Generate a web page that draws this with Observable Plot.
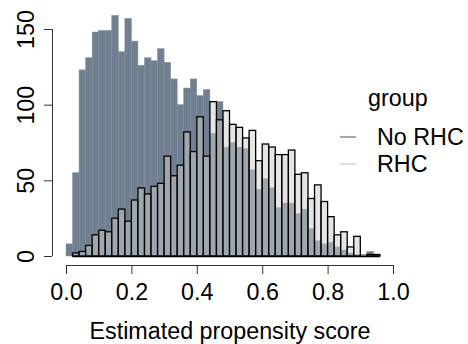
<!DOCTYPE html>
<html>
<head>
<meta charset="utf-8">
<script src="https://cdn.jsdelivr.net/npm/d3@7"></script>
<script src="https://cdn.jsdelivr.net/npm/@observablehq/plot@0.6"></script>
<style>
  html, body { margin: 0; padding: 0; background: #fff; }
  #chart { width: 468px; height: 344px; }
</style>
</head>
<body>
<div id="chart"></div>
<script>
// Histogram bins (width 0.02, starting at 0.00)
const binWidth = 0.02;
const noRHC = [8, 55, 123, 131, 148, 149, 149, 159, 135, 157, 142, 126, 131, 129, 137, 128,
  117, 100, 111, 117, 106, 110, 81, 102, 72, 75, 72, 71, 57, 44, 51, 45,
  32, 35, 35, 28, 31, 18, 10, 8, 9, 6, 4, 2, 1, 1, 3, 1];
const rhc = [0, 2, 3, 7, 14, 17, 16, 25, 31, 23, 37, 45, 41, 46, 48, 66,
  53, 60, 82, 69, 92, 66, 102, 90, 96, 87, 85, 78, 83, 63, 74, 72,
  67, 67, 70, 54, 55, 38, 47, 36, 26, 14, 16, 6, 13, 0, 1, 1];
const xTicks = [0, 0.2, 0.4, 0.6, 0.8, 1.0];
const yTicks = [0, 50, 100, 150];
const groups = ["No RHC", "RHC"];
const xLabel = "Estimated propensity score";
const legendTitle = "group";

const noRHCData = noRHC.map((c, i) => ({x1: i * binWidth, x2: (i + 1) * binWidth, count: c}));
const rhcData = rhc.map((c, i) => ({x1: i * binWidth, x2: (i + 1) * binWidth, count: c})).slice(1);

const font = "'Liberation Sans', Arial, Helvetica, sans-serif";
const fs = 23.3;

const svg = Plot.plot({
  width: 468,
  height: 344,
  marginLeft: 52,
  insetLeft: 14,
  marginRight: 75,
  marginTop: 29,
  marginBottom: 79,
  insetBottom: 9,
  style: {fontFamily: font, fontSize: fs + "px", color: "#000", background: "#fff", overflow: "visible"},
  x: {domain: [0, 1], axis: null},
  y: {domain: [0, 150], axis: null},
  marks: [
    Plot.rectY(noRHCData, {x1: "x1", x2: "x2", y: "count", fill: "#708090", stroke: "#808e9c", strokeWidth: 0.5}),
    Plot.rectY(rhcData, {x1: "x1", x2: "x2", y: "count", fill: "#cccccc", fillOpacity: 0.5, stroke: "#000", strokeWidth: 1.3}),
    Plot.ruleY([0], {x1: binWidth, x2: rhc.length * binWidth, stroke: "#000", strokeWidth: 1.3}),
    // x axis
    Plot.ruleY([0], {x1: 0, x2: 1, dy: 9, stroke: "#333", strokeWidth: 1}),
    Plot.axisX(xTicks, {tickSize: 9, tickPadding: 9, tickFormat: d3.format(".1f"), fontSize: fs, label: null, stroke: "#333", fill: "#000"}),
    Plot.text([xLabel], {x: () => 0.5, frameAnchor: "bottom", text: d => d, dy: 57, lineAnchor: "top", textAnchor: "middle", fontSize: fs, fill: "#000"}),
    // y axis
    Plot.ruleX([0], {y1: 0, y2: 150, dx: -14, stroke: "#333", strokeWidth: 1}),
    Plot.axisY(yTicks, {tickSize: 8, tickFormat: () => "", label: null, stroke: "#333"}),
    Plot.text(yTicks, {y: d => d, text: d => String(d), frameAnchor: "left", dx: -26, rotate: -90, textAnchor: "middle", lineAnchor: "middle", fontSize: fs, fill: "#000"})
  ]
});

// Legend
const s = d3.select(svg);
const lg = s.append("g").attr("font-family", font).attr("font-size", fs).attr("text-anchor", "start");
lg.append("text").attr("x", 368).attr("y", 106).attr("text-anchor", "start").text(legendTitle).attr("fill", "#000");
const keyColors = ["#8796a6", "#d6d6d6"];
groups.forEach((g, i) => {
  const cy = 137 + i * 27;
  lg.append("line").attr("x1", 340).attr("x2", 356).attr("y1", cy).attr("y2", cy)
    .attr("stroke", keyColors[i]).attr("stroke-width", 1.6);
  lg.append("text").attr("x", 377).attr("y", cy + 8).attr("text-anchor", "start").text(g).attr("fill", "#000");
});

document.getElementById("chart").appendChild(svg);
</script>
</body>
</html>
